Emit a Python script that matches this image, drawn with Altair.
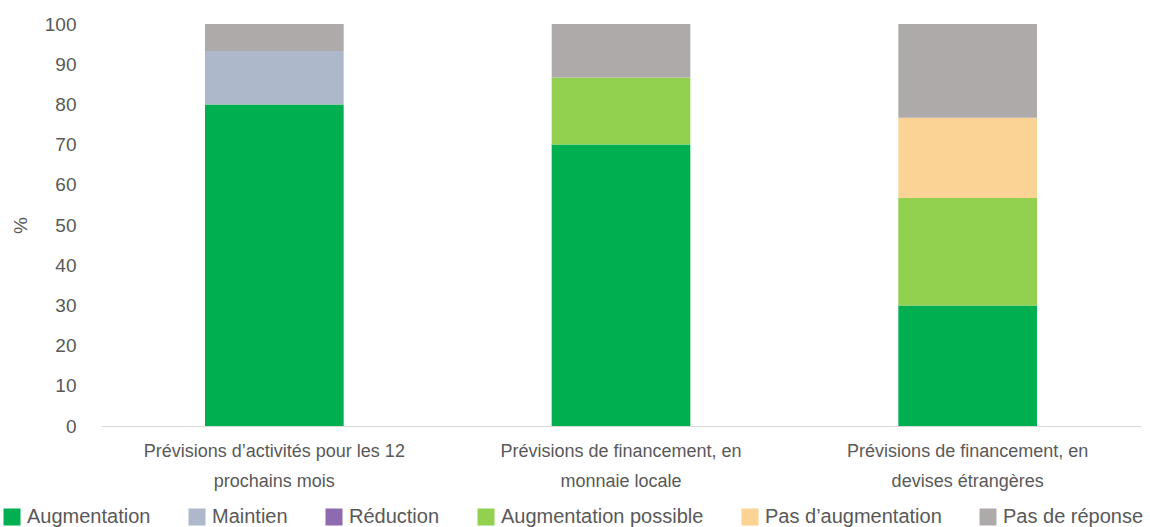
import altair as alt
import pandas as pd

categories = [
    "Prévisions d’activités pour les 12|prochains mois",
    "Prévisions de financement, en|monnaie locale",
    "Prévisions de financement, en|devises étrangères",
]
series = ["Augmentation", "Maintien", "Réduction", "Augmentation possible",
          "Pas d’augmentation", "Pas de réponse"]
colors = ["#00B050", "#ADB9CA", "#8E6BB0", "#92D050", "#FAD395", "#AEAAAA"]

augmentation = [80.0, 70.0, 30.0]
maintien = [13.3, 0.0, 0.0]
reduction = [0.0, 0.0, 0.0]
augmentation_possible = [0.0, 16.7, 26.7]
pas_augmentation = [0.0, 0.0, 20.0]
pas_reponse = [6.7, 13.3, 23.3]

values = [augmentation, maintien, reduction, augmentation_possible,
          pas_augmentation, pas_reponse]

rows = []
for si, (s, vals) in enumerate(zip(series, values)):
    for c, v in zip(categories, vals):
        rows.append({"cat": c, "serie": s, "val": v, "ord": si})
df = pd.DataFrame(rows)

FONT = "Liberation Sans, Arial, sans-serif"
GREY = "#595959"

chart = alt.Chart(df).mark_bar().encode(
    x=alt.X("cat:N", sort=categories, title=None,
            scale=alt.Scale(paddingInner=0.6, paddingOuter=0.3),
            axis=alt.Axis(labelExpr="split(datum.label, '|')", labelAngle=0,
                          labelFontSize=18, labelColor=GREY, labelFont=FONT,
                          labelLineHeight=30, labelPadding=16, labelLimit=0,
                          ticks=False, domainColor="#D9D9D9", domainWidth=1)),
    y=alt.Y("val:Q", stack="zero", title="%",
            scale=alt.Scale(domain=[0, 100], nice=False),
            axis=alt.Axis(values=list(range(0, 101, 10)), grid=False, domain=False,
                          ticks=False, labelFontSize=19, labelColor=GREY,
                          labelFont=FONT, labelPadding=25,
                          titleFontSize=19, titleColor=GREY, titleFont=FONT,
                          titleFontWeight="normal", titlePadding=14)),
    color=alt.Color("serie:N", sort=series,
                    scale=alt.Scale(domain=series, range=colors),
                    legend=alt.Legend(title=None, orient="none", direction="horizontal",
                                      columns=6, legendX=-99, legendY=483,
                                      symbolType="square", symbolSize=289,
                                      symbolStrokeWidth=0, labelFontSize=20,
                                      labelColor=GREY, labelFont=FONT, labelLimit=0,
                                      columnPadding=36, labelOffset=5)),
    order=alt.Order("ord:Q", sort="ascending"),
).properties(
    width=1040, height=402,
    autosize=alt.AutoSizeParams(type="none"),
    padding={"left": 101, "top": 24, "right": 9, "bottom": 101},
).configure_view(stroke=None)

chart.save("out.html", embed_options={"renderer": "svg", "actions": False})
